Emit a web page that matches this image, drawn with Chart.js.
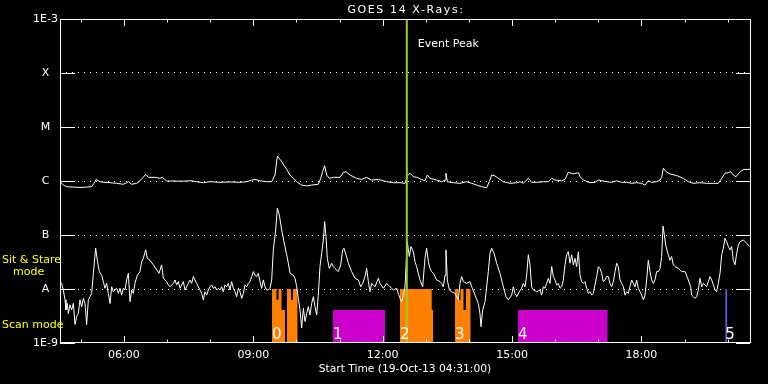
<!DOCTYPE html>
<html>
<head>
<meta charset="utf-8">
<script src="https://cdn.jsdelivr.net/npm/chart.js@4/dist/chart.umd.min.js"></script>
<style>
html,body{margin:0;padding:0;background:#000;}
#wrap{width:768px;height:384px;position:relative;}
</style>
</head>
<body>
<div id="wrap"><canvas id="c"></canvas></div>
<script>
// ---- Text ----
const chartTitle = 'GOES 14 X-Rays:';
const xAxisTitle = 'Start Time (19-Oct-13 04:31:00)';
const eventLabel = 'Event Peak';

// ---- X axis: minutes after 04:31 ----
const xMin = 0, xMax = 960;
const hourTicks = [29, 89, 149, 209, 269, 329, 389, 449, 509, 569, 629, 689, 749, 809, 869, 929];
const hourTickLabels = ['', '06:00', '', '', '09:00', '', '', '12:00', '', '', '15:00', '', '', '18:00', '', ''];

// ---- Y axis: flux (W/m^2), log ----
const yTickValues = [1e-9, 1e-8, 1e-7, 1e-6, 1e-5, 1e-4, 1e-3];
const yTickLabels = ['1E-9', 'A', 'B', 'C', 'M', 'X', '1E-3'];

// ---- Short channel (0.5-4 A) ----
const lowTimes = [0,2.3,4.6,7.0,8.3,10.2,11.6,13.9,16.2,18.6,20.9,23.2,25.5,27.8,30.1,32.5,34.8,37.1,39.4,41.7,44.1,46.4,49.6,51.9,54.7,58.0,60.3,62.6,64.9,67.2,69.6,71.9,74.2,76.5,78.8,81.2,83.5,85.8,88.1,90.4,92.8,95.1,97.4,99.7,102.0,104.3,107.6,111.3,113.6,115.9,119.2,121.5,125.2,129.9,134.5,137.7,141.4,143.8,148.4,150.7,153.0,157.7,160.0,162.3,164.6,167.0,169.3,171.6,173.9,176.2,180.9,183.2,185.5,190.1,194.8,197.1,199.4,201.7,204.1,206.4,208.7,211.0,213.3,215.7,218.0,220.3,222.6,224.9,227.2,229.6,231.9,234.2,236.5,238.8,241.2,243.5,245.8,248.1,250.4,252.8,255.1,257.4,259.7,262.0,264.3,266.7,269.0,271.3,273.6,275.9,278.3,280.6,282.9,285.2,287.5,289.9,292.2,294.5,296.8,300.1,302.4,305.2,308.4,313.0,317.7,
320.0,324.6,327.0,329.3,331.6,333.9,336.2,338.6,340.9,343.2,345.5,347.8,350.1,352.5,354.8,357.1,359.4,361.7,364.1,366.4,368.2,370.1,371.9,374.7,378.0,380.3,382.6,387.2,390.5,393.3,395.1,397.9,401.2,405.8,410.4,415.1,418.3,421.1,424.3,426.7,429.0,431.3,433.6,438.3,442.9,445.2,449.9,454.5,459.1,463.8,468.4,473.0,475.4,477.7,480.0,483.2,486.0,488.3,491.6,493.9,496.2,498.5,500.9,504.6,507.8,510.1,512.5,514.8,517.1,519.4,524.1,528.7,531.0,533.3,535.7,537.0,538.9,541.7,544.9,549.6,554.2,556.5,558.8,561.2,565.8,570.4,572.8,577.4,582.0,584.3,585.7,588.1,591.3,595.9,598.3,600.6,603.8,607.5,612.2,616.8,620.5,623.8,628.4,630.7,633.0,635.4,639.1,
642.3,644.6,647.0,649.3,651.6,653.9,656.2,658.6,663.2,667.8,670.1,672.5,674.8,677.1,679.4,681.7,684.1,686.4,688.7,691.0,693.3,695.7,698.0,700.3,702.6,704.9,707.2,709.6,711.9,714.2,716.5,718.8,721.2,723.5,725.8,728.1,730.4,732.8,735.1,737.4,739.7,742.0,744.3,746.7,749.0,751.3,753.6,755.9,758.3,760.6,762.9,765.2,767.5,769.9,772.2,774.5,776.8,779.1,781.4,783.8,786.1,788.4,790.7,793.0,795.4,797.7,800.0,802.3,804.6,807.0,809.3,811.6,813.9,816.2,818.5,820.9,823.2,825.5,827.8,830.1,832.5,834.8,837.1,839.0,840.8,843.1,846.4,848.7,851.0,853.3,855.7,860.3,864.9,869.6,874.2,877.5,878.8,881.2,883.5,885.8,888.1,890.4,892.8,895.1,897.4,899.7,902.0,904.3,906.7,909.0,911.3,913.6,915.9,918.3,920.6,922.9,925.2,927.5,929.9,932.2,934.5,936.8,939.1,941.5,943.8,946.1,950.7,955.4,959.1];
const lowFlux = [1.37e-8,1.27e-8,9.6e-9,6.3e-9,4.1e-9,5.4e-9,3.5e-9,5.1e-9,4.1e-9,5.4e-9,2.2e-9,3.1e-9,3.5e-9,6.3e-9,4.7e-9,6.7e-9,5.4e-9,2.2e-9,6.3e-9,7.2e-9,8.3e-9,1.95e-8,5.7e-8,3.4e-8,2.1e-8,1.8e-8,1.37e-8,1.03e-8,1.27e-8,8.3e-9,5.4e-9,1.1e-8,8.9e-9,9.6e-9,1.03e-8,8.3e-9,1.03e-8,7.7e-9,1.03e-8,9.6e-9,1.47e-8,1.95e-8,5.8e-9,9.6e-9,8.3e-9,1.27e-8,1.8e-8,2.1e-8,3.2e-8,3.7e-8,5.3e-8,3.7e-8,3.4e-8,2.8e-8,2.25e-8,1.95e-8,2.8e-8,1.58e-8,1.37e-8,1.19e-8,1.1e-8,1.27e-8,1.47e-8,1.19e-8,1.37e-8,1.03e-8,1.19e-8,1.37e-8,9.6e-9,1.1e-8,1.47e-8,1.27e-8,1.7e-8,1.27e-8,9.6e-9,8.3e-9,6.3e-9,8.9e-9,7.7e-9,9.6e-9,1.1e-8,1.19e-8,1.03e-8,1.1e-8,9.6e-9,1.03e-8,9.6e-9,1.1e-8,8.9e-9,1.19e-8,1.1e-8,1.27e-8,9.6e-9,1.37e-8,1.03e-8,8.9e-9,7.2e-9,1.03e-8,8.9e-9,6.7e-9,8.3e-9,1.19e-8,1.1e-8,1.27e-8,1.37e-8,1.7e-8,2.1e-8,1.8e-8,1.7e-8,1.95e-8,1.37e-8,1.03e-8,1.47e-8,1.1e-8,9.6e-9,9.6e-9,1.03e-8,1.47e-8,5.3e-8,1.24e-7,3.12e-7,2.34e-7,1.24e-7,6.1e-8,3.0e-8,
1.95e-8,1.8e-8,1.58e-8,1.1e-8,6.7e-9,4.1e-9,1.9e-9,4.4e-9,2.5e-9,3.5e-9,4.7e-9,3.3e-9,5.4e-9,7.2e-9,4.7e-9,3.3e-9,7.7e-9,2.6e-8,4.6e-8,8.1e-8,1.77e-7,9.3e-8,3.7e-8,2.4e-8,3.0e-8,2.6e-8,2.4e-8,2.1e-8,2.8e-8,5.3e-8,5.7e-8,4.3e-8,3.0e-8,2.1e-8,1.58e-8,1.47e-8,1.1e-8,1.27e-8,1.7e-8,2.4e-8,1.37e-8,8.9e-9,1.27e-8,1.1e-8,1.58e-8,1.27e-8,1.03e-8,1.27e-8,1.1e-8,9.6e-9,1.03e-8,6.7e-9,5.8e-9,7.7e-9,1.1e-8,7.5e-8,4.0e-8,6.1e-8,4.9e-8,3.2e-8,2.6e-8,1.95e-8,1.47e-8,1.1e-8,3.7e-8,5.7e-8,3.2e-8,2.4e-8,2.1e-8,1.95e-8,1.47e-8,1.37e-8,1.27e-8,1.1e-8,1.8e-8,5.3e-8,1.47e-8,9.6e-9,8.9e-9,8.3e-9,6.3e-9,1.27e-8,1.7e-8,1.37e-8,1.27e-8,1.37e-8,1.1e-8,7.7e-9,5.4e-9,3.5e-9,2.0e-9,4.1e-9,5.8e-9,2.1e-8,4.6e-8,5.7e-8,4.6e-8,3.0e-8,1.95e-8,1.1e-8,7.2e-9,6.3e-9,7.7e-9,1.1e-8,8.3e-9,7.2e-9,8.9e-9,
1.03e-8,1.27e-8,1.1e-8,1.8e-8,4.3e-8,2.8e-8,1.1e-8,9.6e-9,8.9e-9,9.6e-9,7.7e-9,1.1e-8,1.03e-8,1.27e-8,1.58e-8,1.27e-8,2.6e-8,1.7e-8,1.47e-8,1.19e-8,1.27e-8,1.03e-8,1.1e-8,1.47e-8,2.8e-8,4.3e-8,4.9e-8,3.0e-8,4.3e-8,2.8e-8,3.7e-8,2.6e-8,4.9e-8,1.8e-8,1.37e-8,1.27e-8,1.37e-8,1.03e-8,8.3e-9,8.9e-9,7.7e-9,8.3e-9,1.19e-8,1.7e-8,2.6e-8,2.4e-8,1.95e-8,1.37e-8,1.47e-8,1.7e-8,1.7e-8,1.27e-8,1.1e-8,1.37e-8,2.1e-8,3.0e-8,2.6e-8,1.47e-8,1.27e-8,1.1e-8,7.7e-9,8.9e-9,8.3e-9,1.1e-8,1.47e-8,1.27e-8,1.1e-8,1.47e-8,1.03e-8,8.9e-9,7.7e-9,6.3e-9,7.7e-9,1.47e-8,3.4e-8,2.1e-8,1.47e-8,1.27e-8,1.47e-8,2.1e-8,2.1e-8,2.4e-8,4.0e-8,1.47e-7,1.0e-7,6.1e-8,4.3e-8,3.4e-8,4.0e-8,2.8e-8,2.6e-8,2.4e-8,2.1e-8,2.1e-8,1.47e-8,1.1e-8,7.7e-9,7.2e-9,6.7e-9,7.2e-9,9.6e-9,1.58e-8,1.1e-8,1.27e-8,1.19e-8,1.1e-8,1.37e-8,1.7e-8,1.47e-8,1.19e-8,9.6e-9,8.9e-9,1.27e-8,1.95e-8,4.3e-8,5.7e-8,8.7e-8,7.5e-8,6.1e-8,5.3e-8,6.1e-8,3.4e-8,2.8e-8,4.6e-8,6.5e-8,7.5e-8,8.1e-8,7.0e-8,6.1e-8];

// ---- Long channel (1-8 A) ----
const highTimes = [0,4.6,9.3,18.6,27.8,37.1,44.1,47.3,50.1,55.7,60.3,69.6,78.8,88.1,92.8,95.1,99.7,106.7,111.3,115.9,119.2,122.9,132.2,139.1,142.4,148.4,160.0,171.6,180.9,190.1,199.4,208.7,222.6,236.5,250.4,259.7,266.7,271.3,278.3,287.5,294.5,299.1,302.4,308.4,315.4,320.0,
324.6,329.3,336.2,343.2,350.1,359.4,362.7,365.4,368.2,371.0,374.7,380.3,389.6,394.2,397.9,403.5,412.8,419.7,426.7,433.6,442.9,454.5,463.8,473.0,480.0,483.2,487.0,491.6,496.2,503.2,507.8,511.1,514.8,524.1,531.0,535.7,537.0,538.9,547.2,556.5,565.8,572.8,579.7,586.7,593.6,597.3,600.6,605.2,612.2,616.8,626.1,635.4,
640.0,644.6,651.6,656.2,663.2,672.5,679.4,684.1,688.7,698.0,702.6,707.2,714.2,721.2,723.5,728.1,737.4,744.3,749.0,753.6,760.6,767.5,774.5,781.4,788.4,795.4,802.3,809.3,813.9,818.5,823.2,830.1,834.8,837.1,839.4,843.1,848.7,858.0,867.2,874.2,881.2,890.4,899.7,909.0,915.9,920.6,925.2,929.9,933.1,936.8,940.5,946.1,951.7,960.0];
const highFlux = [9.7e-7,8.4e-7,7.85e-7,7.7e-7,7.6e-7,7.7e-7,7.85e-7,9.05e-7,1.07e-6,9.7e-7,9.45e-7,9.3e-7,9.05e-7,8.7e-7,9.3e-7,9.7e-7,8.7e-7,9.05e-7,1.01e-6,1.17e-6,1.33e-6,1.17e-6,1.17e-6,1.12e-6,1.17e-6,1.0e-6,1.0e-6,9.9e-7,1.01e-6,9.7e-7,9.3e-7,9.7e-7,9.45e-7,9.6e-7,9.45e-7,9.7e-7,1.04e-6,1.07e-6,1.01e-6,9.7e-7,9.7e-7,1.29e-6,2.9e-6,2.28e-6,1.64e-6,1.29e-6,
1.12e-6,9.7e-7,8.4e-7,8.1e-7,8.4e-7,8.7e-7,1.12e-6,1.49e-6,1.92e-6,1.29e-6,1.12e-6,1.17e-6,1.17e-6,1.43e-6,1.49e-6,1.29e-6,1.12e-6,1.07e-6,1.17e-6,1.04e-6,1.07e-6,9.7e-7,9.3e-7,9.3e-7,9.05e-7,1.24e-6,1.39e-6,1.2e-6,1.17e-6,1.07e-6,1.01e-6,1.29e-6,1.12e-6,1.04e-6,9.7e-7,1.04e-6,1.39e-6,9.7e-7,9.3e-7,9.05e-7,9.7e-7,9.05e-7,8.4e-7,7.85e-7,7.5e-7,9.7e-7,1.29e-6,1.24e-6,1.07e-6,9.7e-7,9.05e-7,9.3e-7,
9.7e-7,9.05e-7,1.12e-6,9.45e-7,9.45e-7,9.7e-7,9.7e-7,1.12e-6,1.04e-6,1.01e-6,1.07e-6,1.45e-6,1.35e-6,1.43e-6,1.2e-6,1.04e-6,9.3e-7,9.45e-7,1.04e-6,1.01e-6,9.7e-7,9.45e-7,1.01e-6,9.45e-7,9.45e-7,9.05e-7,9.3e-7,9.05e-7,8.4e-7,1.01e-6,9.45e-7,9.7e-7,1.04e-6,1.17e-6,1.72e-6,1.49e-6,1.35e-6,1.26e-6,1.12e-6,9.7e-7,9.05e-7,9.3e-7,9.05e-7,9.05e-7,9.05e-7,1.12e-6,1.39e-6,1.43e-6,1.49e-6,1.29e-6,1.2e-6,1.49e-6,1.64e-6,1.64e-6];

// ---- Event peak ----
const eventPeakTime = 482.5;

// ---- Observation blocks ----
const sitStareTimes = [[295.0,301.2,304.0,308.2,313.0],[315.8,321.4,324.2,330.7],[473.0,517.2,519.4],[549.6,554.4,557.2,561.4,564.9,571.4]];
const sitStareTops  = [[1e-8,6.3e-9,1e-8,4.1e-9],[1e-8,6.3e-9,1e-8],[1e-8,4.1e-9],[1e-8,6.3e-9,1e-8,4.1e-9,1e-8]];
const scanStarts = [379.8, 637.2];
const scanEnds   = [452.2, 762.0];
const scanTop = 4.1e-9;
const otherStarts = [925.6];
const otherEnds   = [928.4];
const otherTop = 1e-8;
const blockLabels = ['0','1','2','3','4','5'];
const blockLabelTimes = [295.0, 379.8, 473.0, 549.6, 637.2, 925.6];

const ORANGE = '#ff8000', MAGENTA = '#cc00cc', BLUE = '#6464f0', GREEN = '#9acd32';

// ---- Build datasets ----
const datasets = [];
datasets.push({
  label: 'event', data: [{x: eventPeakTime, y: 1e-9}, {x: eventPeakTime, y: 1e-3}],
  borderColor: GREEN, borderWidth: 2, pointRadius: 0, fill: false, order: 0
});
datasets.push({
  label: 'long', data: highTimes.map((t, i) => ({x: t, y: highFlux[i]})),
  borderColor: '#fff', borderWidth: 1, pointRadius: 0, fill: false, tension: 0, order: 1
});
datasets.push({
  label: 'short', data: lowTimes.map((t, i) => ({x: t, y: lowFlux[i]})),
  borderColor: '#fff', borderWidth: 1, pointRadius: 0, fill: false, tension: 0, order: 2
});
function blockDataset(times, tops, color) {
  const pts = [];
  for (let i = 0; i < tops.length; i++) pts.push({x: times[i], y: tops[i]});
  pts.push({x: times[times.length - 1], y: tops[tops.length - 1]});
  return {label: 'block', data: pts, stepped: 'before', borderColor: 'rgba(0,0,0,0)', borderWidth: 0,
    backgroundColor: color, fill: 'start', pointRadius: 0, order: 10};
}
sitStareTimes.forEach((t, i) => datasets.push(blockDataset(t, sitStareTops[i], ORANGE)));
scanStarts.forEach((s, i) => datasets.push(blockDataset([s, scanEnds[i]], [scanTop], MAGENTA)));
otherStarts.forEach((s, i) => datasets.push(blockDataset([s, otherEnds[i]], [otherTop], BLUE)));

const FONT = 'DejaVu Sans';
Chart.defaults.font.family = FONT;
Chart.defaults.font.size = 11;
Chart.defaults.color = '#fff';

const decor = {
  id: 'decor',
  beforeDraw(chart) {
    const ctx = chart.ctx;
    ctx.save();
    ctx.fillStyle = '#000';
    ctx.fillRect(0, 0, chart.width, chart.height);
    ctx.restore();
  },
  afterDraw(chart) {
    const ctx = chart.ctx, a = chart.chartArea, xs = chart.scales.x, ys = chart.scales.y;
    ctx.save();
    ctx.strokeStyle = '#fff';
    ctx.lineWidth = 1;
    // frame
    ctx.strokeRect(Math.round(a.left) + 0.5, Math.round(a.top) + 0.5, Math.round(a.right - a.left), Math.round(a.bottom - a.top) - 1);
    // inward x ticks
    ctx.beginPath();
    xs.ticks.forEach((t, i) => {
      const px = Math.round(xs.getPixelForValue(t.value)) + 0.5;
      const len = hourTickLabels[i] ? 7 : 3.5;
      ctx.moveTo(px, a.top); ctx.lineTo(px, a.top + len);
      ctx.moveTo(px, a.bottom); ctx.lineTo(px, a.bottom - len);
    });
    // inward y ticks (solid stubs)
    ys.ticks.forEach(t => {
      const py = Math.round(ys.getPixelForValue(t.value)) + 0.5;
      ctx.moveTo(a.left, py); ctx.lineTo(a.left + 15, py);
      ctx.moveTo(a.right, py); ctx.lineTo(a.right - 14, py);
    });
    ctx.stroke();
    // block labels
    ctx.fillStyle = '#fff';
    ctx.font = '15px "' + FONT + '"';
    ctx.textBaseline = 'alphabetic';
    ctx.textAlign = 'left';
    blockLabels.forEach((lab, i) => {
      ctx.fillText(lab, xs.getPixelForValue(blockLabelTimes[i]), a.bottom - 4);
    });
    // event label
    ctx.font = '11px "' + FONT + '"';
    ctx.fillText(eventLabel, xs.getPixelForValue(eventPeakTime) + 11, a.top + 28);
    // title
    ctx.textAlign = 'center';
    ctx.letterSpacing = '1.6px';
    ctx.fillText(chartTitle, (a.left + a.right) / 2 + 1, 13);
    ctx.letterSpacing = '0px';
    // mode labels
    ctx.textAlign = 'left';
    ctx.fillStyle = '#ffff00';
    ctx.fillText('Sit & Stare', 2, 263);
    ctx.fillText('mode', 13, 274.5);
    ctx.fillText('Scan mode', 2, 328);
    ctx.restore();
  }
};

new Chart(document.getElementById('c'), {
  type: 'line',
  data: {datasets},
  plugins: [decor],
  options: {
    responsive: true, maintainAspectRatio: false, animation: false, devicePixelRatio: 1,
    layout: {padding: {top: 19, right: 18, left: 0, bottom: 0}},
    plugins: {legend: {display: false}, tooltip: {enabled: false}, title: {display: false}},
    scales: {
      x: {
        type: 'linear', min: xMin, max: xMax,
        afterBuildTicks: s => { s.ticks = hourTicks.map(v => ({value: v})); },
        afterFit: s => { s.height = 41; },
        ticks: {autoSkip: false, maxRotation: 0, minRotation: 0, padding: 6, color: '#fff',
          font: {size: 11}, callback: (v, i) => hourTickLabels[i]},
        grid: {display: false, drawTicks: false},
        border: {display: false},
        title: {display: true, text: xAxisTitle, color: '#fff', font: {size: 10.7}, padding: {top: 0, bottom: 8}}
      },
      y: {
        type: 'logarithmic', min: 1e-9, max: 1e-3,
        afterBuildTicks: s => { s.ticks = yTickValues.map(v => ({value: v})); },
        afterFit: s => { s.width = 60; },
        ticks: {crossAlign: 'center', padding: 2, color: '#fff', font: {size: 11},
          callback: (v, i) => yTickLabels[i]},
        grid: {drawTicks: false, lineWidth: 1,
          color: c => (c.index === 0 || c.index === yTickValues.length - 1) ? 'rgba(0,0,0,0)' : '#fff'},
        border: {display: false, dash: [1, 5]}
      }
    }
  }
});
</script>
</body>
</html>
